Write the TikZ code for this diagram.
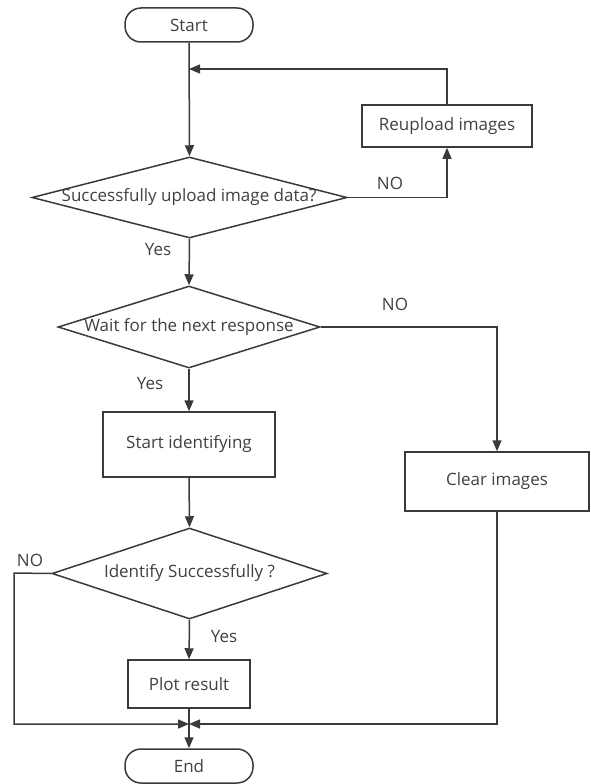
\documentclass[tikz,border=0pt]{standalone}
\usepackage{fontspec}
\setmainfont{Open Sans}
\usetikzlibrary{arrows.meta,shapes.geometric}
\definecolor{ln}{HTML}{3A3A3A}
\definecolor{tx}{HTML}{404040}
\tikzset{
  every node/.style={font=\fontsize{17}{19}\selectfont, text=tx},
  term/.style={draw=ln, line width=1.5pt, rounded corners=16pt, minimum width=128pt, minimum height=34pt, inner sep=0pt},
  proc/.style={draw=ln, line width=1.5pt, inner sep=0pt},
  dia/.style={draw=ln, line width=1.5pt, diamond, inner sep=0pt},
  arr/.style={draw=ln, line width=1.5pt, -{Triangle[length=11pt,width=9pt]}},
  lbl/.style={inner sep=0pt}
}
\begin{document}
\begin{tikzpicture}[x=1pt,y=-1pt]
\useasboundingbox (0,0) rectangle (590,784);
\node[term] (start) at (189,25) {Start};
\node[proc, minimum width=170pt, minimum height=42pt] (reup) at (447,126) {Reupload images};
\node[dia, minimum width=315pt, minimum height=81pt] (d1) at (189.5,197.5) {};
\node[lbl] (d1t) at (189,197) {Successfully upload image data?};
\node[dia, minimum width=262pt, minimum height=82pt] (d2) at (189,327) {};
\node[lbl] (d2t) at (189,327) {Wait for the next response};
\node[proc, minimum width=172pt, minimum height=65pt] (ident) at (189,444.5) {Start identifying};
\node[proc, minimum width=184pt, minimum height=59pt] (clear) at (497,481.5) {Clear images};
\node[dia, minimum width=275pt, minimum height=91pt] (d3) at (189.5,573.5) {};
\node[lbl] (d3t) at (189.5,573) {Identify Successfully ?};
\node[proc, minimum width=122pt, minimum height=48pt] (plot) at (189,684) {Plot result};
\node[term] (end) at (189,766) {End};
\coordinate (j1) at (189,69);
\coordinate (j2) at (189,724);
\coordinate (lft) at (14,573);
\node[lbl] (no1) at (390,183) {NO};
\node[lbl] (yes1) at (158,250) {Yes};
\node[lbl] (no2) at (395,304) {NO};
\node[lbl] (yes2) at (150,384) {Yes};
\node[lbl] (no3) at (30,560) {NO};
\node[lbl] (yes3) at (224,637) {Yes};
\draw[arr] (start.south) -- (d1.north);
\draw[arr] (reup.north) |- (j1);
\draw[arr] (d1.east) -| (reup.south);
\draw[arr] (d1.south) -- (d2.north);
\draw[arr] (d2.east) -| (clear.north);
\draw[arr] (d2.south) -- (ident.north);
\draw[arr] (ident.south) -- (d3.north);
\draw[arr] (d3.south) -- (plot.north);
\draw[arr] (plot.south) -- (end.north);
\draw[arr] (d3.west) -- (lft) |- (j2);
\draw[arr] (clear.south) |- (j2);
\end{tikzpicture}
\end{document}
